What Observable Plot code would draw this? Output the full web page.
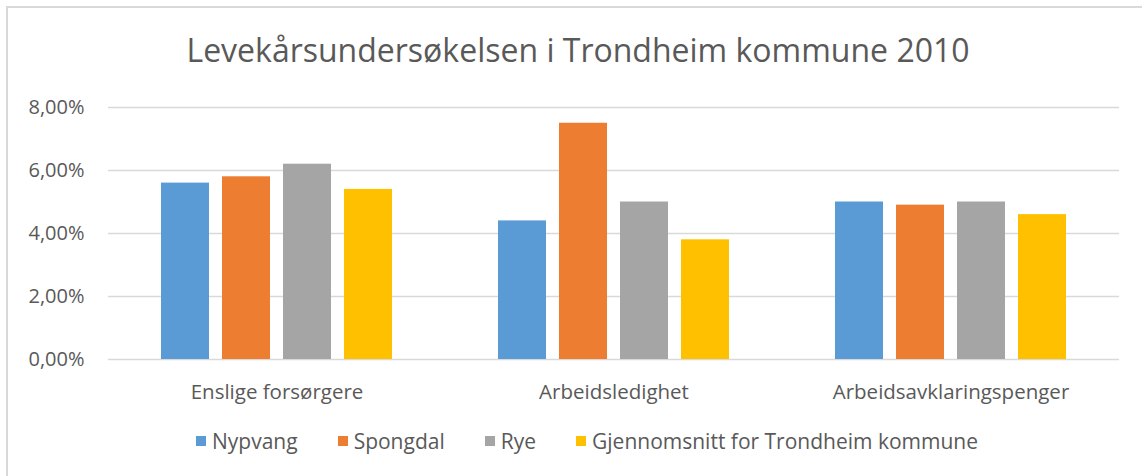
<!DOCTYPE html>
<html>
<head>
<meta charset="utf-8">
<script src="https://cdn.jsdelivr.net/npm/d3@7"></script>
<script src="https://cdn.jsdelivr.net/npm/@observablehq/plot@0.6"></script>
<style>
  html, body { margin: 0; padding: 0; background: #fff; overflow: hidden; }
  #page { position: relative; width: 1142px; height: 476px; overflow: hidden; font-family: "Open Sans", sans-serif; color: #595959; }
  #frame { position: absolute; left: 6px; top: 6px; width: 1160px; height: 500px; border: 2px solid #d9d9d9; box-sizing: border-box; }
  #title { position: absolute; left: 0; width: 1156px; top: 28px; text-align: center; font-size: 32px; line-height: 44px; color: #595959; }
  #chart { position: absolute; left: 0; top: 90px; }
  #legend { position: absolute; left: 196px; top: 428px; display: flex; align-items: center; font-size: 21px; line-height: 26px; color: #595959; white-space: nowrap; }
  .item { display: flex; align-items: center; margin-right: 40px; }
  .sw { width: 10px; height: 10px; margin-right: 6px; }
</style>
</head>
<body>
<div id="page">
  <div id="frame"></div>
  <div id="title">Levekårsundersøkelsen i Trondheim kommune 2010</div>
  <div id="chart"></div>
  <div id="legend"></div>
</div>
<script>
const categories = ["Enslige forsørgere", "Arbeidsledighet", "Arbeidsavklaringspenger"];
const series = ["Nypvang", "Spongdal", "Rye", "Gjennomsnitt for Trondheim kommune"];
const nypvang = [5.6, 4.4, 5.0];
const spongdal = [5.8, 7.5, 4.9];
const rye = [6.2, 5.0, 5.0];
const gjennomsnitt = [5.4, 3.8, 4.6];
const colors = ["#5B9BD5", "#ED7D31", "#A5A5A5", "#FFC000"];
const yTicks = [0, 2, 4, 6, 8];

const seriesValues = [nypvang, spongdal, rye, gjennomsnitt];
const data = categories.flatMap((c, i) =>
  series.map((s, j) => ({category: c, series: s, value: seriesValues[j][i]}))
);
const fmt = d => d.toFixed(2).replace(".", ",") + "%";

const plot = Plot.plot({
  width: 1142,
  height: 320,
  marginLeft: 107,
  marginRight: 23,
  marginTop: 17,
  marginBottom: 51,
  style: {fontFamily: "'Open Sans', sans-serif", color: "#595959", background: "transparent", fontSize: "20px"},
  fx: {domain: categories, padding: 0, label: null},
  x: {domain: series, paddingInner: 0.213, paddingOuter: 0.866, axis: null},
  y: {domain: [0, 8], label: null},
  color: {domain: series, range: colors},
  marks: [
    Plot.gridY(yTicks, {stroke: "#d9d9d9", strokeOpacity: 1, strokeWidth: 1.5}),
    Plot.axisY(yTicks, {tickSize: 0, tickPadding: 24, tickFormat: fmt, fontSize: 20, fill: "#595959", label: null}),
    Plot.axisFx({anchor: "bottom", tickSize: 0, tickPadding: 25, fontSize: 20.5, fill: "#595959", label: null}),
    Plot.barY(data, {fx: "category", x: "series", y: "value", fill: "series"})
  ]
});
document.getElementById("chart").appendChild(plot);

const legend = document.getElementById("legend");
series.forEach((s, i) => {
  const item = document.createElement("div");
  item.className = "item";
  const sw = document.createElement("span");
  sw.className = "sw";
  sw.style.background = plot.scale("color").apply(s);
  const t = document.createElement("span");
  t.textContent = s;
  item.appendChild(sw);
  item.appendChild(t);
  legend.appendChild(item);
});
</script>
</body>
</html>
